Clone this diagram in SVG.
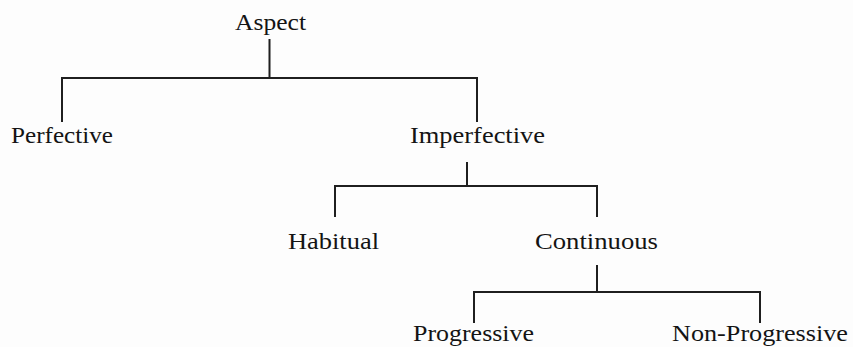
<svg xmlns="http://www.w3.org/2000/svg" width="853" height="347" viewBox="0 0 853 347">
<style>
.bg{fill:#fdfdfd}
.lbl{font-family:"Liberation Serif","Times New Roman",serif;font-size:23.5px;fill:#141414}
.edge{fill:none;stroke:#1f1f1f;stroke-width:2;stroke-linejoin:miter}
</style>
<rect class="bg" x="0" y="0" width="853" height="347"/>
<g id="connectors">
<path class="edge" d="M269.5,39 V78 M62,122 V78 H477 V122"/>
<path class="edge" d="M467,162 V186 M335,217 V186 H597 V217"/>
<path class="edge" d="M597,265 V292 M474,323 V292 H760 V323"/>
</g>
<g id="aspect"><text class="lbl" x="235" y="29.5" textLength="71" lengthAdjust="spacingAndGlyphs">Aspect</text></g>
<g id="perfective"><text class="lbl" x="11" y="143" textLength="102" lengthAdjust="spacingAndGlyphs">Perfective</text></g>
<g id="imperfective"><text class="lbl" x="410" y="143" textLength="135" lengthAdjust="spacingAndGlyphs">Imperfective</text></g>
<g id="habitual"><text class="lbl" x="288" y="248.5" textLength="91" lengthAdjust="spacingAndGlyphs">Habitual</text></g>
<g id="continuous"><text class="lbl" x="535" y="248.5" textLength="123" lengthAdjust="spacingAndGlyphs">Continuous</text></g>
<g id="progressive"><text class="lbl" x="413" y="341" textLength="121" lengthAdjust="spacingAndGlyphs">Progressive</text></g>
<g id="non-progressive"><text class="lbl" x="672" y="341" textLength="176" lengthAdjust="spacingAndGlyphs">Non-Progressive</text></g>
</svg>
